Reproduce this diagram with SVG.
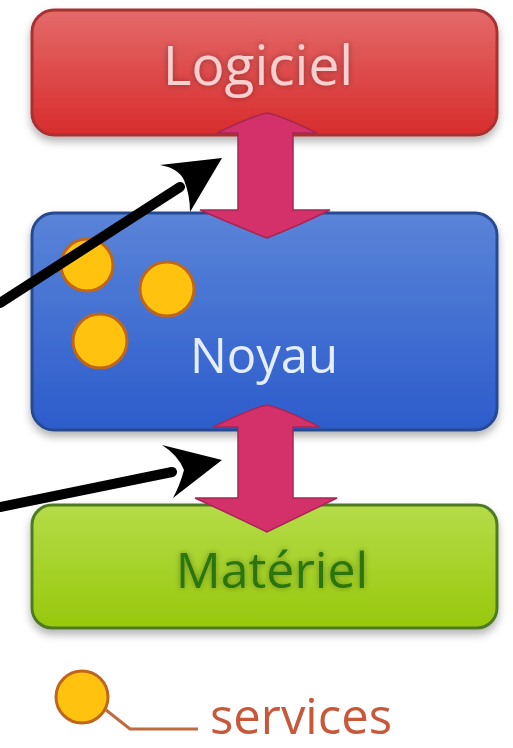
<svg xmlns="http://www.w3.org/2000/svg" width="513" height="748" viewBox="0 0 513 748">
<style>
.box{stroke-width:3}
.lbl{font-family:"Open Sans","DejaVu Sans",sans-serif;text-anchor:middle}
.svc{fill:#ffc20e;stroke:#c0661c;stroke-width:3}
.pink{fill:#d4306a;stroke:#a82656;stroke-width:1.5}
.blk{stroke:#000;stroke-width:10;stroke-linecap:round;fill:none}
</style>
<defs>
<linearGradient id="gRed" x1="0" y1="0" x2="0" y2="1"><stop offset="0" stop-color="#e46a6a"/><stop offset="1" stop-color="#d82c2c"/></linearGradient>
<linearGradient id="gBlue" x1="0" y1="0" x2="0" y2="1"><stop offset="0" stop-color="#5a84d8"/><stop offset="1" stop-color="#2c5ccc"/></linearGradient>
<linearGradient id="gGreen" x1="0" y1="0" x2="0" y2="1"><stop offset="0" stop-color="#b4dc48"/><stop offset="1" stop-color="#98c80c"/></linearGradient>
<filter id="sh" x="-10%" y="-10%" width="120%" height="130%"><feDropShadow dx="0" dy="5" stdDeviation="4" flood-color="#000" flood-opacity="0.3"/></filter>
<filter id="glow" x="-10%" y="-20%" width="120%" height="140%"><feGaussianBlur in="SourceAlpha" stdDeviation="3"/><feComponentTransfer><feFuncA type="linear" slope="0.35"/></feComponentTransfer><feMerge><feMergeNode/><feMergeNode in="SourceGraphic"/></feMerge></filter>
</defs>
<rect width="513" height="748" fill="#ffffff"/>
<g id="logiciel">
<rect class="box" x="32" y="10" width="465" height="125" rx="22" fill="url(#gRed)" stroke="#a83030" filter="url(#sh)"/>
<text class="lbl" x="258" y="85" font-size="55" fill="#f8d0d0" filter="url(#glow)">Logiciel</text>
</g>
<g id="noyau">
<rect class="box" x="32" y="213" width="465" height="217" rx="22" fill="url(#gBlue)" stroke="#284a90" filter="url(#sh)"/>
<text class="lbl" x="264" y="373" font-size="49" fill="#e4eeff">Noyau</text>
<circle class="svc" cx="87" cy="265" r="26"/>
<circle class="svc" cx="167" cy="289" r="27"/>
<circle class="svc" cx="100" cy="341" r="27"/>
</g>
<g id="materiel">
<rect class="box" x="32" y="505" width="465" height="123" rx="20" fill="url(#gGreen)" stroke="#4e7a22" filter="url(#sh)"/>
<text class="lbl" x="272" y="588" font-size="50" fill="#2a7410" filter="url(#glow)">Matériel</text>
</g>
<g id="legend">
<circle class="svc" cx="82" cy="697" r="26" stroke-width="3.5"/>
<polyline points="106,710 130,729 198,729" fill="none" stroke="#c06a40" stroke-width="3"/>
<text x="210" y="734" font-family="'Open Sans','DejaVu Sans',sans-serif" font-size="49" fill="#c8583a">services</text>
</g>
<g id="connectors">
<path class="pink" d="M267,113 Q282,116 317,133 L293,133 L293,210 L330,210 Q300,225 267,238 Q234,225 200,210 L238,210 L238,133 L217,133 Q252,116 267,113 Z"/>
<path class="pink" d="M267,405 Q282,408 320,427 L293,427 L293,498 L337,498 Q302,515 267,532 Q232,515 195,498 L238,498 L238,427 L213,427 Q252,408 267,405 Z"/>
<line class="blk" x1="0" y1="303" x2="180" y2="187"/>
<path d="M222,158 L160,165 Q178,168 184,180 Q190,195 190,212 Z" fill="#000"/>
<line class="blk" x1="0" y1="507" x2="172" y2="472"/>
<path d="M222,460 L162,445 Q178,455 184,470 Q180,485 173,498 Z" fill="#000"/>
</g>
</svg>
